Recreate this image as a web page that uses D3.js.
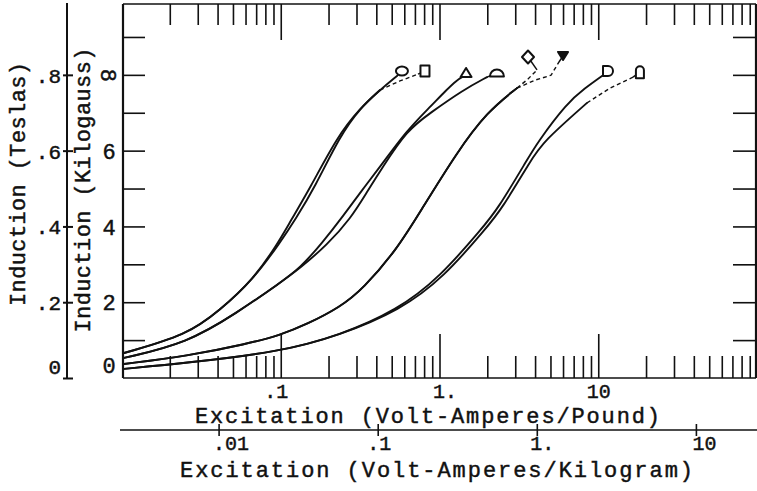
<!DOCTYPE html>
<html>
<head>
<meta charset="utf-8">
<script src="https://cdn.jsdelivr.net/npm/d3@7"></script>
<style>
  html, body { margin: 0; padding: 0; background: #fff; }
  svg { display: block; }
  text { font-family: "Liberation Mono", "DejaVu Sans Mono", monospace; fill: #111; stroke: #111; stroke-width: 0.45px; }
</style>
</head>
<body>
<svg id="chart" width="757" height="491"></svg>
<script>
// Magnetization curves: [excitation (VA/lb), induction (kilogauss)]
const circleCurve = [[0.0103,0.66],[0.0257,1.13],[0.0414,1.79],[0.0669,2.59],[0.0961,3.56],[0.1144,4.12],[0.1529,5.01],[0.2261,6.36],[0.3157,7.12],[0.4219,7.60],[0.5398,7.97]];
const squareCurve = [[0.0103,0.66],[0.0257,1.13],[0.0414,1.79],[0.0669,2.59],[0.1004,3.61],[0.1230,4.17],[0.1643,5.04],[0.2361,6.39],[0.3157,7.12],[0.4219,7.60]];
const squareTail = [[0.4219,7.60],[0.5638,7.84],[0.7321,8.02]];
const triangleCurve = [[0.0103,0.53],[0.0257,0.92],[0.0530,1.72],[0.0989,2.51],[0.1322,2.90],[0.1819,3.56],[0.2466,4.27],[0.3250,4.96],[0.4219,5.57],[0.6243,6.54],[0.8713,7.15],[1.1148,7.62],[1.289,7.86],[1.386,7.94]];
const semicircleCurve = [[0.0103,0.53],[0.0257,0.92],[0.0530,1.72],[0.0989,2.51],[0.1322,2.90],[0.1956,3.51],[0.2770,4.22],[0.3495,4.91],[0.4343,5.54],[0.6243,6.54],[0.8713,6.99],[1.406,7.60],[1.991,7.94]];
const diamondCurve = [[0.0103,0.37],[0.0257,0.58],[0.0613,0.90],[0.0989,1.13],[0.1464,1.42],[0.2361,1.87],[0.3297,2.35],[0.5398,3.40],[0.7536,4.38],[1.289,5.96],[1.991,7.02],[3.077,7.65]];
const diamondTail = [[3.077,7.65],[3.609,7.89],[4.114,8.13]];
const invTriangleCurve = [[0.0103,0.37],[0.0257,0.58],[0.0613,0.90],[0.0989,1.13],[0.1464,1.42],[0.2361,1.87],[0.3297,2.35],[0.5398,3.40],[0.7536,4.38],[1.289,5.96],[1.991,7.02],[3.077,7.65]];
const invTriangleTail = [[3.077,7.65],[3.997,7.86],[5.040,7.99],[5.660,8.34]];
const dCurve = [[0.0103,0.24],[0.0257,0.40],[0.0989,0.69],[0.2361,1.13],[0.5398,1.79],[1.0073,2.66],[1.879,3.98],[2.302,4.43],[3.557,5.75],[4.114,6.20],[6.356,7.26],[8.253,7.65],[10.56,7.97]];
const capsuleCurve = [[0.0103,0.24],[0.0257,0.40],[0.0989,0.69],[0.2361,1.13],[0.5638,1.79],[1.067,2.66],[1.991,3.98],[2.440,4.43],[3.770,5.75],[4.487,6.23],[8.496,7.26]];
const capsuleTail = [[8.496,7.26],[11.86,7.65],[16.56,7.94]];

// End-point symbols
const markerShapes = ["circle","square","triangle","semicircle","diamond","invTriangle","dRight","capsule"];
const markerExcitation = [0.580, 0.810, 1.47, 2.30, 3.61, 6.00, 11.52, 18.3];
const markerInduction = [8.10, 8.10, 8.05, 8.05, 8.47, 8.50, 8.10, 8.07];

// Axis tick labels
const kgTickValues = [0, 2, 4, 6, 8];
const kgTickLabels = ["0", "2", "4", "6", "8"];
const teslaTickValues = [0, 0.2, 0.4, 0.6, 0.8];
const teslaTickLabels = ["0", ".2", ".4", ".6", ".8"];
const lbTickValues = [0.1, 1, 10];
const lbTickLabels = [".1", "1.", "10"];
const kgExcTickValues = [0.01, 0.1, 1, 10];
const kgExcTickLabels = [".01", ".1", "1.", "10"];

const ink = "#111";
const plot = { left: 123, right: 756, top: 4, bottom: 378 };

const x = d3.scaleLog().domain([0.01, 100]).range([122, 757]);
const y = d3.scaleLinear().domain([0, 9.87]).range([plot.bottom, plot.top]);
const yT = d3.scaleLinear().domain([0, 0.987]).range([plot.bottom, plot.top]);
const x2 = d3.scaleLog().domain([0.01, 10]).range([218.6, 695.9]);

const svg = d3.select("#chart");

svg.append("defs").append("clipPath").attr("id", "plotClip")
  .append("rect").attr("x", plot.left).attr("y", plot.top)
  .attr("width", plot.right - plot.left).attr("height", plot.bottom - plot.top);

const styleTicks = g => {
  g.select(".domain").remove();
  g.selectAll(".tick line").attr("stroke", ink).attr("stroke-width", 1.6);
};

// log-scale ticks split into decade and intermediate marks
const logTicks = x.ticks().filter(v => v > 0.011 && v < 99);
const isDecade = v => Math.abs(Math.log10(v) - Math.round(Math.log10(v))) < 1e-6;
const minorX = logTicks.filter(v => !isDecade(v));
const majorX = logTicks.filter(isDecade);

// top edge ticks
svg.append("g").attr("transform", `translate(0,${plot.top})`)
  .call(d3.axisBottom(x).tickValues(minorX).tickSize(21).tickFormat(""))
  .call(styleTicks);
svg.append("g").attr("transform", `translate(0,${plot.top})`)
  .call(d3.axisBottom(x).tickValues(majorX).tickSize(36).tickFormat(""))
  .call(styleTicks);

// bottom edge ticks
svg.append("g").attr("transform", `translate(0,${plot.bottom})`)
  .call(d3.axisTop(x).tickValues(minorX).tickSize(22).tickFormat(""))
  .call(styleTicks);
svg.append("g").attr("transform", `translate(0,${plot.bottom})`)
  .call(d3.axisTop(x).tickValues(majorX).tickSize(44).tickFormat(""))
  .call(styleTicks);

// bottom tick labels (VA/lb)
const lbLabelShift = [7, -7, 0];
const lbLabelAnchor = ["end", "start", "middle"];
svg.append("g").attr("transform", `translate(0,${plot.bottom})`)
  .call(d3.axisBottom(x).tickValues(lbTickValues).tickSize(0)
    .tickFormat((d, i) => lbTickLabels[i]))
  .call(g => g.select(".domain").remove())
  .call(g => g.selectAll(".tick text")
    .attr("y", 20).attr("dy", 0)
    .attr("x", (d, i) => lbLabelShift[i])
    .attr("text-anchor", (d, i) => lbLabelAnchor[i])
    .style("font-size", "20px").style("font-family", null).attr("fill", ink));

// left and right induction ticks (kilogauss)
const kgMinor = d3.range(1, 10);
svg.append("g").attr("transform", `translate(${plot.left},0)`)
  .call(d3.axisRight(y).tickValues(kgMinor).tickSize(22).tickFormat(""))
  .call(styleTicks);
svg.append("g").attr("transform", `translate(${plot.right},0)`)
  .call(d3.axisLeft(y).tickValues(kgMinor).tickSize(23).tickFormat(""))
  .call(styleTicks);

// kilogauss labels
svg.append("g").attr("transform", `translate(${plot.left},0)`)
  .call(d3.axisLeft(y).tickValues(kgTickValues).tickSize(0)
    .tickFormat((d, i) => kgTickLabels[i]))
  .call(g => g.select(".domain").remove())
  .call(g => g.selectAll(".tick text")
    .attr("x", -14).attr("dy", "0.35em")
    .attr("y", d => d === 0 ? -13 : 0)
    .attr("text-anchor", "middle")
    .attr("transform", d => d === 8 ? "rotate(90,-14,0)" : null)
    .style("font-size", "22px").style("font-family", null).attr("fill", ink));

// tesla axis
const teslaX = 67;
svg.append("line").attr("x1", teslaX).attr("x2", teslaX)
  .attr("y1", 3).attr("y2", plot.bottom)
  .attr("stroke", ink).attr("stroke-width", 2);
svg.append("g").attr("transform", `translate(${teslaX},0)`)
  .call(d3.axisLeft(yT).tickValues(teslaTickValues).tickSize(5)
    .tickFormat((d, i) => teslaTickLabels[i]))
  .call(g => g.select(".domain").remove())
  .call(g => g.selectAll(".tick line").attr("x2", 6).attr("x1", -4)
    .attr("stroke", ink).attr("stroke-width", 2))
  .call(g => g.selectAll(".tick text")
    .attr("x", -6).attr("dy", "0.35em")
    .attr("y", d => d === 0 ? -12 : 0)
    .attr("text-anchor", "end")
    .style("font-size", "21px").style("font-family", null).attr("fill", ink));

// plot frame
svg.append("g").attr("fill", "none").attr("stroke", ink)
  .call(g => {
    g.append("line").attr("x1", plot.left).attr("x2", plot.left)
      .attr("y1", plot.top).attr("y2", plot.bottom).attr("stroke-width", 2.2);
    g.append("line").attr("x1", plot.right).attr("x2", plot.right)
      .attr("y1", plot.top).attr("y2", plot.bottom).attr("stroke-width", 2.2);
    g.append("line").attr("x1", plot.left).attr("x2", plot.right)
      .attr("y1", plot.top).attr("y2", plot.top).attr("stroke-width", 1.6);
    g.append("line").attr("x1", plot.left).attr("x2", plot.right)
      .attr("y1", plot.bottom).attr("y2", plot.bottom).attr("stroke-width", 1.4);
  });

// curves
const line = d3.line().x(d => x(d[0])).y(d => y(d[1])).curve(d3.curveBasis);
const straight = d3.line().x(d => x(d[0])).y(d => y(d[1]));
const solidCurves = [circleCurve, squareCurve, triangleCurve, semicircleCurve, diamondCurve, invTriangleCurve, dCurve, capsuleCurve];
const dashedTails = [squareTail, diamondTail, invTriangleTail, capsuleTail];

const curveLayer = svg.append("g").attr("clip-path", "url(#plotClip)")
  .attr("fill", "none").attr("stroke", ink);
curveLayer.selectAll("path.curve").data(solidCurves).join("path")
  .attr("class", "curve").attr("d", line)
  .attr("stroke-width", 1.9).attr("stroke-linecap", "round");
curveLayer.selectAll("path.tail").data(dashedTails).join("path")
  .attr("class", "tail").attr("d", straight)
  .attr("stroke-width", 1.4).attr("stroke-dasharray", "4,3");

// short leaders from each curve end to its symbol
const curveEnds = [circleCurve, squareTail, triangleCurve, semicircleCurve, diamondTail, invTriangleTail, dCurve, capsuleTail]
  .map(a => a[a.length - 1]);
curveLayer.selectAll("line.leader").data(markerShapes).join("line")
  .attr("class", "leader")
  .attr("x1", (d, i) => x(curveEnds[i][0])).attr("y1", (d, i) => y(curveEnds[i][1]))
  .attr("x2", (d, i) => x(markerExcitation[i])).attr("y2", (d, i) => y(markerInduction[i]))
  .attr("stroke-width", 1.5);

// symbols
const shapePath = {
  circle: "M-6,0a6,4.5 0 1,0 12,0a6,4.5 0 1,0 -12,0Z",
  square: "M-4.5,-5.5h9v11h-9Z",
  triangle: "M0,-5L5.5,4H-5.5Z",
  semicircle: "M-7,3.5A7,7 0 0,1 7,3.5Z",
  diamond: "M0,-6.5L6,0L0,6.5L-6,0Z",
  invTriangle: "M-5,-4H5L0,4Z",
  dRight: "M-5,-5H0A5,5 0 0,1 0,5H-5Z",
  capsule: "M-4,6V-2A4,4 0 0,1 4,-2V6Z"
};
svg.append("g").selectAll("path").data(markerShapes).join("path")
  .attr("transform", (d, i) => `translate(${x(markerExcitation[i])},${y(markerInduction[i])})`)
  .attr("d", d => shapePath[d])
  .attr("fill", d => d === "invTriangle" ? ink : "#fff")
  .attr("stroke", ink).attr("stroke-width", 2).attr("stroke-linejoin", "round");

// second excitation scale (VA/kg)
const axis2Y = 430;
svg.append("line").attr("x1", 120).attr("x2", 757)
  .attr("y1", axis2Y).attr("y2", axis2Y)
  .attr("stroke", ink).attr("stroke-width", 1.3);
const kgLabelShift = [-6, -11, -7, -4];
svg.append("g").attr("transform", `translate(0,${axis2Y})`)
  .call(d3.axisBottom(x2).tickValues(kgExcTickValues).tickSize(6)
    .tickFormat((d, i) => kgExcTickLabels[i]))
  .call(g => g.select(".domain").remove())
  .call(g => g.selectAll(".tick line").attr("y1", -6).attr("stroke", ink).attr("stroke-width", 1.6))
  .call(g => g.selectAll(".tick text")
    .attr("y", 20).attr("dy", 0)
    .attr("x", (d, i) => kgLabelShift[i])
    .attr("text-anchor", "start")
    .style("font-size", "20px").style("font-family", null).attr("fill", ink));

// axis titles
svg.append("text").attr("x", 427.5).attr("y", 423)
  .attr("text-anchor", "middle").attr("textLength", 465).attr("lengthAdjust", "spacing")
  .style("font-size", "22px").text("Excitation (Volt-Amperes/Pound)");
svg.append("text").attr("x", 436.5).attr("y", 477)
  .attr("text-anchor", "middle").attr("textLength", 513).attr("lengthAdjust", "spacing")
  .style("font-size", "22px").text("Excitation (Volt-Amperes/Kilogram)");
svg.append("text").attr("transform", "translate(25,184) rotate(-90)")
  .attr("text-anchor", "middle").attr("textLength", 244).attr("lengthAdjust", "spacing")
  .style("font-size", "22px").text("Induction (Teslas)");
svg.append("text").attr("transform", "translate(90,190) rotate(-90)")
  .attr("text-anchor", "middle").attr("textLength", 285).attr("lengthAdjust", "spacing")
  .style("font-size", "22px").text("Induction (Kilogauss)");
</script>
</body>
</html>
